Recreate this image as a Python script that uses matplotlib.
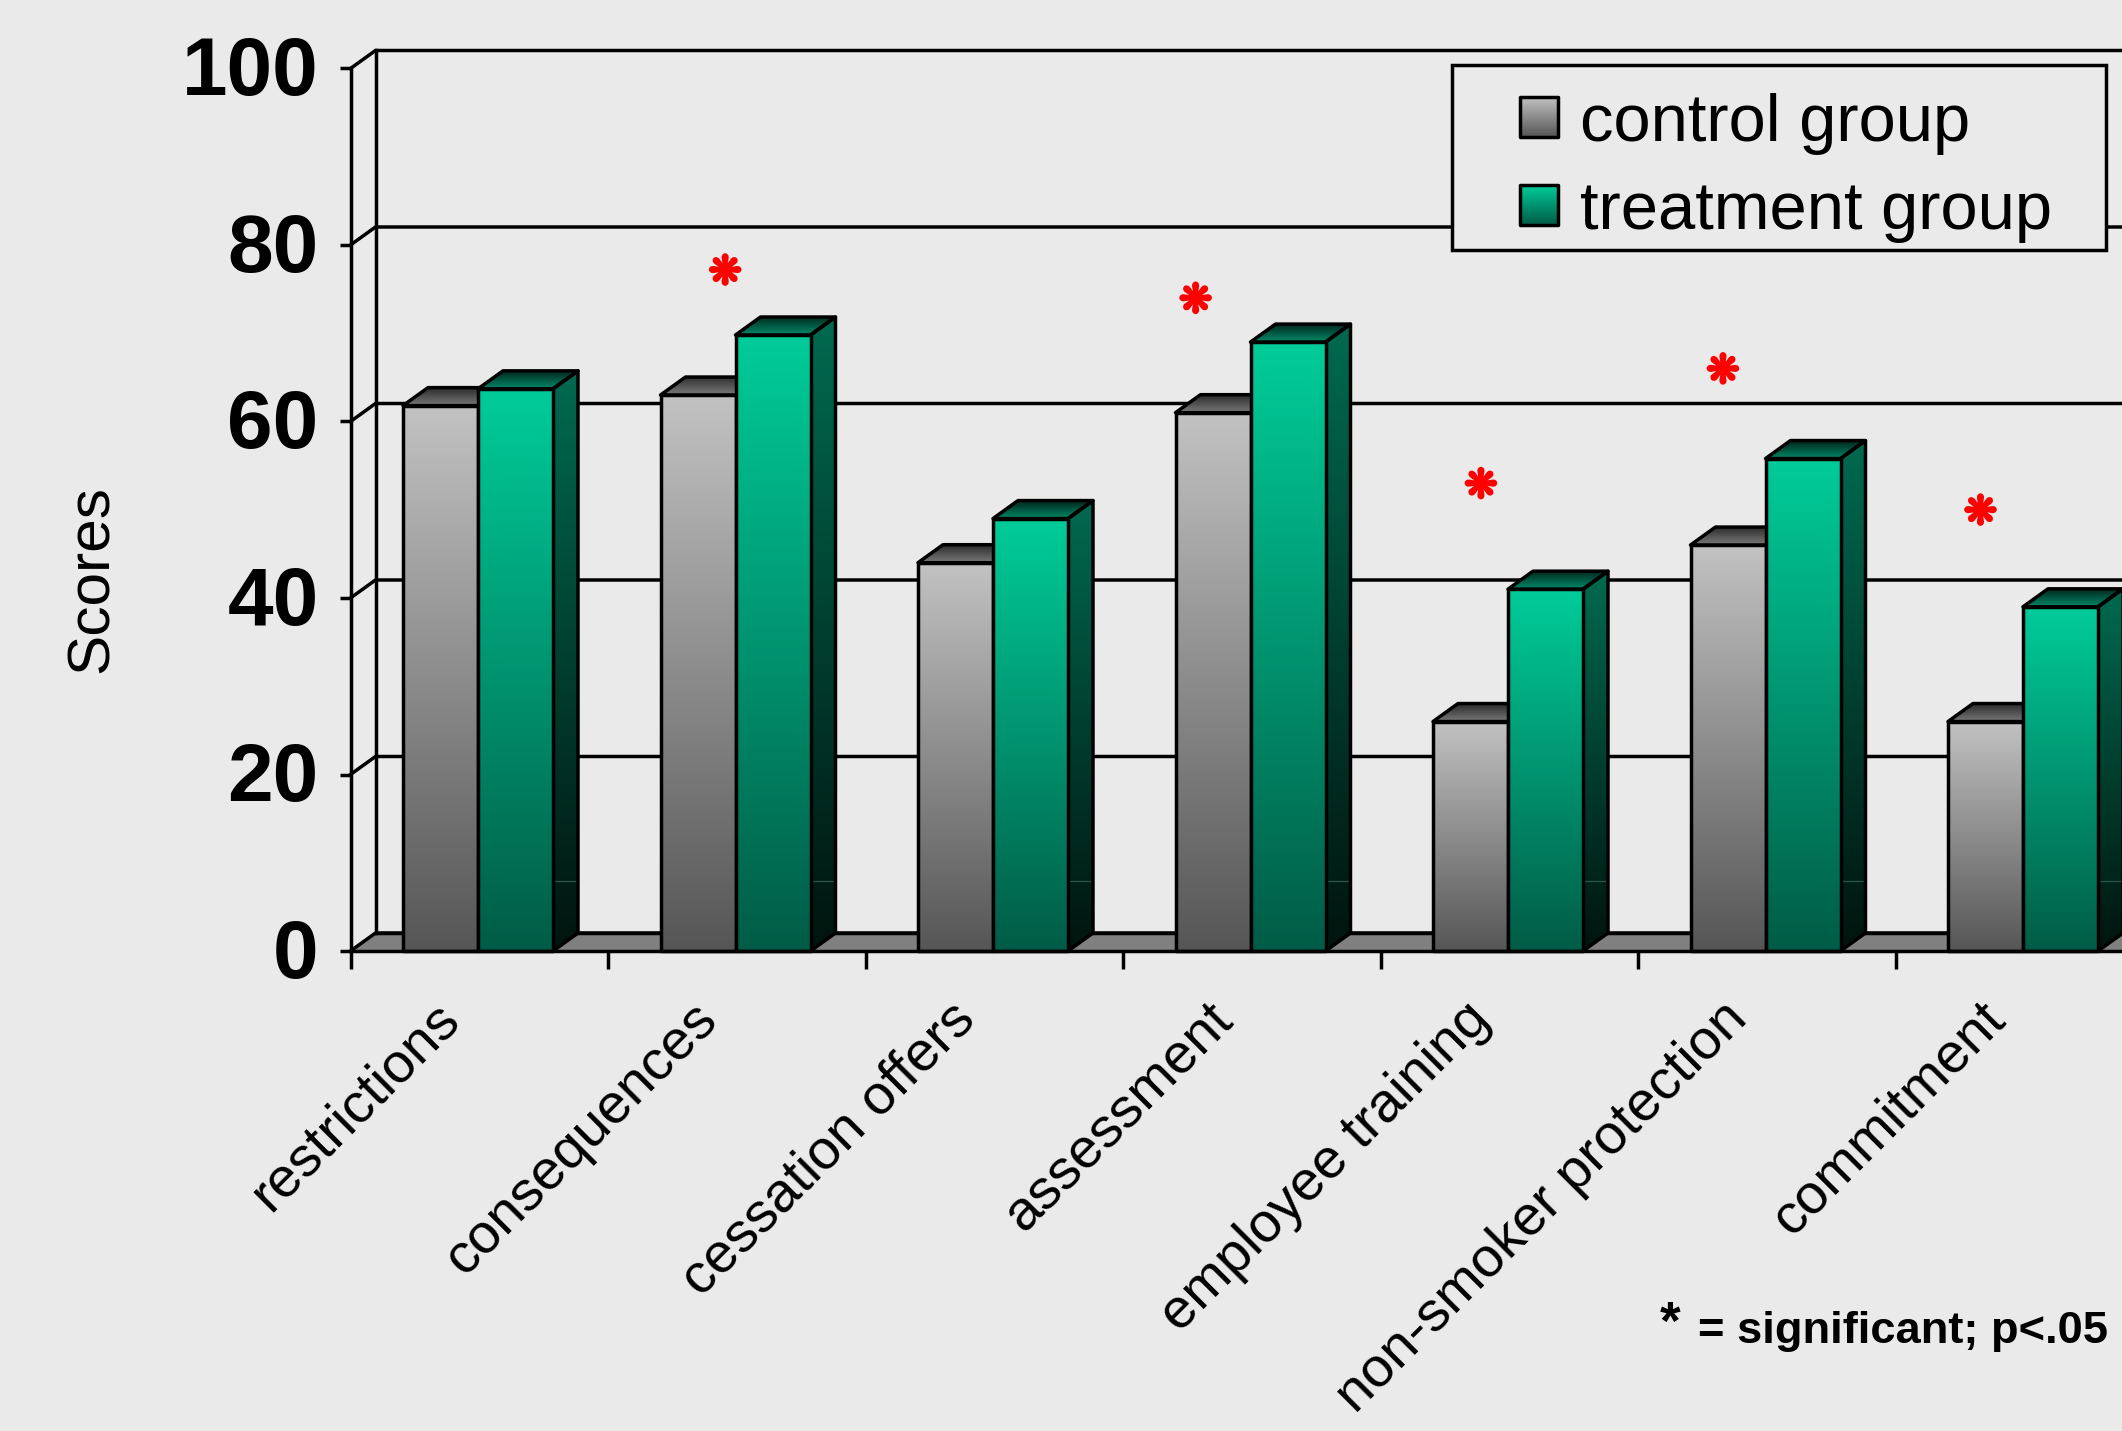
import numpy as np
import matplotlib
matplotlib.use('Agg')
import matplotlib.pyplot as plt
import matplotlib.patheffects as pe
from matplotlib.colors import LinearSegmentedColormap
from matplotlib.patches import Polygon, Rectangle
from matplotlib.transforms import ScaledTranslation

WIDTH, HEIGHT = 2122, 1431
DPI = 100
BG = '#eaeaea'

CATEGORIES = ['restrictions', 'consequences', 'cessation offers', 'assessment',
              'employee training', 'non-smoker protection', 'commitment']
CONTROL = [61.8, 63, 44, 61, 26, 46, 26]
TREATMENT = [63.7, 69.8, 49, 69, 41, 55.8, 39]
Y_TICKS = [0, 20, 40, 60, 80, 100]

# asterisks for significant differences: x in group units, y in score units
STAR_X = [1.455, 3.282, 4.39, 5.33, 6.33]
STAR_Y = [76.8, 73.6, 52.6, 65.6, 49.6]

# axes frame in pixels
X0, Y0, Y100 = 350.5, 951, 68.5
GROUP_W = 257.5
BAR_W = 75 / GROUP_W
BAR_OFFSET = 52.5 / GROUP_W
DEPTH_X = 25 / GROUP_W
DEPTH_Y = 18 / ((Y0 - Y100) / 100)
LW = 2.5

GRAY_FRONT = ('#c2c2c2', '#565656')
GRAY_TOP = ('#7a7a7a', '#2c2c2c')
GREEN_FRONT = ('#00cc99', '#005c46')
GREEN_SIDE = ('#006a50', '#00140e')
GREEN_TOP = ('#008a68', '#00281d')


def gradient(ax, extent, colors, clip, zorder):
    cmap = LinearSegmentedColormap.from_list('g', colors)
    img = ax.imshow(np.linspace(0, 1, 256).reshape(-1, 1), cmap=cmap, extent=extent,
                    aspect='auto', origin='upper', zorder=zorder, clip_on=True)
    img.set_clip_path(clip)
    return img


def draw_bar(ax, left, value, front, top, side, zorder):
    right = left + BAR_W
    d_x, d_y = DEPTH_X, DEPTH_Y

    # side face
    pts = [(right, 0), (right + d_x, d_y), (right + d_x, value + d_y), (right, value)]
    if side is not None:
        poly = Polygon(pts, closed=True, fc='none', ec='none', transform=ax.transData)
        ax.add_patch(poly)
        gradient(ax, (right, right + d_x, 0, value + d_y), side, poly, zorder)
        # faint edge where the floor block meets the side
        ax.plot([right, right + d_x - 0.004], [7.9, 7.9], color='#2c5548', lw=0.9,
                zorder=zorder + 0.1, clip_on=False)
        ax.add_patch(Polygon(pts, closed=True, fc='none', ec='black', lw=LW,
                             joinstyle='round', zorder=zorder + 0.2, clip_on=False))

    # top face
    pts = [(left, value), (left + d_x, value + d_y), (right + d_x, value + d_y), (right, value)]
    poly = Polygon(pts, closed=True, fc='none', ec='none', transform=ax.transData)
    ax.add_patch(poly)
    gradient(ax, (left, right + d_x, value, value + d_y), top[::-1], poly, zorder)
    ax.add_patch(Polygon(pts, closed=True, fc='none', ec='black', lw=LW,
                         joinstyle='round', zorder=zorder + 0.2, clip_on=False))

    # front face
    rect = Rectangle((left, 0), BAR_W, value, fc='none', ec='none', transform=ax.transData)
    ax.add_patch(rect)
    gradient(ax, (left, right, 0, value), front, rect, zorder + 0.3)
    ax.add_patch(Rectangle((left, 0), BAR_W, value, fc='none', ec='black', lw=LW,
                           joinstyle='round', zorder=zorder + 0.4, clip_on=False))


def main():
    plt.rcParams['font.family'] = ['Liberation Sans', 'DejaVu Sans']
    fig = plt.figure(figsize=(WIDTH / DPI, HEIGHT / DPI), dpi=DPI, facecolor=BG)
    ax = fig.add_axes([X0 / WIDTH, 1 - Y0 / HEIGHT, (WIDTH - X0) / WIDTH, (Y0 - Y100) / HEIGHT])
    ax.set_facecolor('none')
    ax.set_xlim(0, (WIDTH - X0) / GROUP_W)
    ax.set_ylim(0, 100)

    # floor
    ax.add_patch(Polygon([(0, 0), (DEPTH_X, DEPTH_Y), (8, DEPTH_Y), (8, 0)], closed=True,
                         fc='#808080', ec='none', zorder=1))
    ax.plot([DEPTH_X, 8], [DEPTH_Y, DEPTH_Y], color='black', lw=LW, zorder=1.5)

    # back wall and gridlines
    ax.plot([DEPTH_X, DEPTH_X], [DEPTH_Y, 100 + DEPTH_Y], color='black', lw=LW, zorder=1.5,
            clip_on=False)
    for v in Y_TICKS:
        ax.plot([0, DEPTH_X, 8], [v, v + DEPTH_Y, v + DEPTH_Y], color='black', lw=LW,
                zorder=1.5, clip_on=False)

    for i, (c, t) in enumerate(zip(CONTROL, TREATMENT)):
        left = i + BAR_OFFSET
        z = 3 + i
        draw_bar(ax, left, c, GRAY_FRONT, GRAY_TOP, None, z)
        draw_bar(ax, left + BAR_W, t, GREEN_FRONT, GREEN_TOP, GREEN_SIDE, z + 0.5)

    ax.set_xlim(0, (WIDTH - X0) / GROUP_W)
    ax.set_ylim(0, 100)

    for side in ('top', 'right'):
        ax.spines[side].set_visible(False)
    for side in ('left', 'bottom'):
        ax.spines[side].set_linewidth(LW)
        ax.spines[side].set_zorder(20)

    ax.set_yticks(Y_TICKS)
    ax.set_yticklabels([str(v) for v in Y_TICKS], fontsize=59, fontweight='bold')
    ax.tick_params(axis='y', length=8, width=LW, pad=15)
    # nudge the big numbers up a little
    nudge = ScaledTranslation(0, 2 / 72, fig.dpi_scale_trans)
    for lbl in ax.get_yticklabels():
        lbl.set_transform(lbl.get_transform() + nudge)
    ax.set_xticks(np.arange(0, 7))
    ax.set_xticklabels([])
    ax.tick_params(axis='x', length=13, width=LW)

    # category names, rotated and ending under each group
    for i, name in enumerate(CATEGORIES):
        ax.annotate(name, xy=(i + 0.5, 0), xycoords=('data', 'axes fraction'),
                    xytext=(-33, -30), textcoords='offset points', rotation=45,
                    ha='right', va='top', rotation_mode='anchor', fontsize=40.3,
                    annotation_clip=False)

    for x, y in zip(STAR_X, STAR_Y):
        ax.text(x, y, '\u274b', color='#ff0000', fontsize=29, ha='center', va='center',
                family=['DejaVu Sans'], zorder=30,
                path_effects=[pe.withStroke(linewidth=1.6, foreground='#ff0000')])

    fig.text(68 * 1.3533 / WIDTH, 1 - 428 * 1.3533 / HEIGHT, 'Scores', rotation=90, fontsize=43.5,
             ha='center', va='center')

    # legend box, built by hand because of the gradient swatches
    lx0, ly0, lx1, ly1 = 1452, 65, 2106, 250
    fig.add_artist(Rectangle((lx0 / WIDTH, 1 - ly1 / HEIGHT), (lx1 - lx0) / WIDTH, (ly1 - ly0) / HEIGHT,
                             transform=fig.transFigure, fc=BG, ec='black', lw=LW, zorder=40))
    leg = fig.add_axes([0, 0, 1, 1], zorder=50)
    leg.set_axis_off()
    leg.set_xlim(0, WIDTH)
    leg.set_ylim(HEIGHT, 0)
    for label, colors, ytop, ytext in [('control group', GRAY_FRONT, 97, 124),
                                       ('treatment group', GREEN_FRONT, 185, 212)]:
        rect = Rectangle((1520, ytop), 38, 40, fc='none', ec='none')
        leg.add_patch(rect)
        img = leg.imshow(np.linspace(0, 1, 64).reshape(-1, 1),
                         cmap=LinearSegmentedColormap.from_list('s', colors),
                         extent=(1520, 1558, ytop + 40, ytop), aspect='auto', origin='upper')
        img.set_clip_path(rect)
        leg.add_patch(Rectangle((1520, ytop), 38, 40, fc='none', ec='black', lw=LW, joinstyle='round'))
        leg.text(1580, ytext, label, fontsize=48.2, va='center', ha='left')
    leg.set_xlim(0, WIDTH)
    leg.set_ylim(HEIGHT, 0)

    leg.text(1660, 1325, '*', fontsize=38, fontweight='bold', ha='left', va='center')
    leg.text(1698, 1332, '= significant; p<.05', fontsize=32.6, fontweight='bold', ha='left', va='center')

    fig.savefig('out.png', dpi=DPI, facecolor=BG)


if __name__ == "__main__":
    main()
